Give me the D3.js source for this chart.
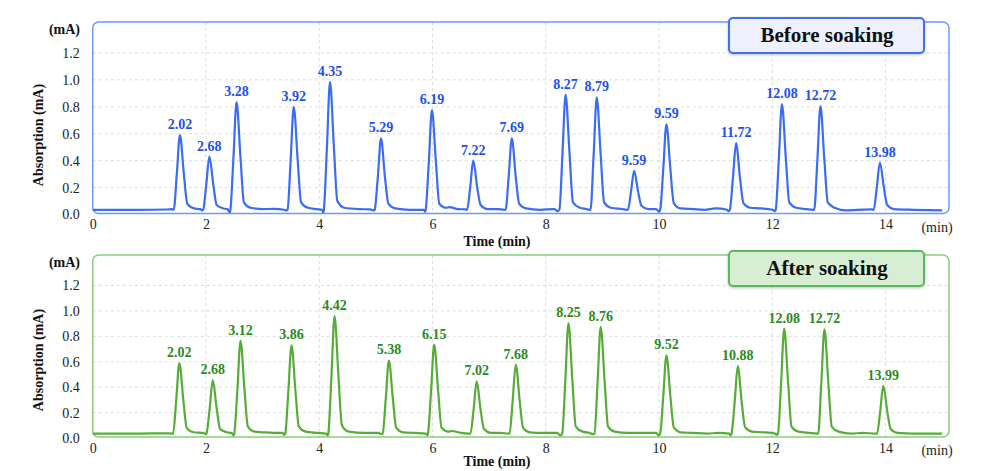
<!DOCTYPE html>
<html>
<head>
<meta charset="utf-8">
<script src="https://cdn.jsdelivr.net/npm/d3@7"></script>
<style>
  body { margin: 0; background: #fff; }
  svg { font-family: "Liberation Serif", "Times New Roman", serif; }
</style>
</head>
<body>
<div id="chart"></div>
<script>
// Chart size
const width = 989;
const height = 471;

// Axis ticks
const xTicks = [0, 2, 4, 6, 8, 10, 12, 14];
const yTicks = [0, 0.2, 0.4, 0.6, 0.8, 1.0, 1.2];

// Before soaking: peak apex (time, height) and their labels
const beforeTimes = [1.54, 2.06, 2.54, 3.55, 4.19, 5.09, 5.99, 6.72, 7.40, 8.35, 8.90, 9.56, 10.13, 11.36, 12.17, 12.85, 13.90];
const beforeHeights = [0.59, 0.43, 0.835, 0.80, 0.985, 0.565, 0.775, 0.40, 0.565, 0.89, 0.87, 0.325, 0.67, 0.53, 0.82, 0.805, 0.385];
const beforeLabels = ["2.02", "2.68", "3.28", "3.92", "4.35", "5.29", "6.19", "7.22", "7.69", "8.27", "8.79", "9.59", "9.59", "11.72", "12.08", "12.72", "13.98"];

// Before soaking: chromatogram trace [time (min), absorption (mA)]
const beforeTrace = [
  [0, 0.035], [0.8, 0.035], [1.3, 0.037], [1.40, 0.04],
  [1.43, 0.035], [1.485, 0.30], [1.54, 0.59], [1.61, 0.30], [1.67, 0.08], [1.79, 0.045],
  [1.9, 0.04], [1.93, 0.03],
  [1.95, 0.035], [2.005, 0.22], [2.06, 0.43], [2.13, 0.22], [2.19, 0.07], [2.31, 0.045],
  [2.38, 0.04], [2.42, 0.015],
  [2.43, 0.03], [2.485, 0.42], [2.54, 0.835], [2.61, 0.42], [2.67, 0.09], [2.79, 0.05],
  [3.0, 0.04], [3.2, 0.042], [3.38, 0.035], [3.42, 0.03],
  [3.44, 0.035], [3.495, 0.40], [3.55, 0.80], [3.62, 0.40], [3.68, 0.09], [3.80, 0.05],
  [3.95, 0.04], [4.05, 0.035], [4.07, 0.015],
  [4.08, 0.03], [4.135, 0.49], [4.19, 0.985], [4.26, 0.49], [4.32, 0.10], [4.44, 0.05],
  [4.7, 0.04], [4.9, 0.038], [4.97, 0.03],
  [4.98, 0.035], [5.035, 0.28], [5.09, 0.565], [5.16, 0.28], [5.22, 0.08], [5.34, 0.045],
  [5.6, 0.035], [5.85, 0.035], [5.87, 0.02],
  [5.88, 0.035], [5.935, 0.39], [5.99, 0.775], [6.06, 0.39], [6.12, 0.08], [6.24, 0.05], [6.3, 0.055],
  [6.45, 0.04], [6.58, 0.038],
  [6.61, 0.035], [6.665, 0.20], [6.72, 0.40], [6.79, 0.20], [6.85, 0.07], [6.97, 0.04],
  [7.15, 0.04], [7.27, 0.035],
  [7.29, 0.035], [7.345, 0.28], [7.40, 0.565], [7.47, 0.28], [7.53, 0.08], [7.65, 0.045],
  [7.9, 0.035], [8.15, 0.04], [8.21, 0.025],
  [8.24, 0.035], [8.295, 0.45], [8.35, 0.89], [8.42, 0.45], [8.48, 0.09], [8.60, 0.05],
  [8.72, 0.04], [8.77, 0.035],
  [8.79, 0.035], [8.845, 0.44], [8.90, 0.87], [8.97, 0.44], [9.03, 0.09], [9.15, 0.05],
  [9.35, 0.04], [9.43, 0.035],
  [9.45, 0.035], [9.505, 0.17], [9.56, 0.325], [9.63, 0.17], [9.69, 0.065], [9.81, 0.04],
  [9.95, 0.04], [10.0, 0.02],
  [10.02, 0.035], [10.075, 0.34], [10.13, 0.67], [10.20, 0.34], [10.26, 0.085], [10.38, 0.045],
  [10.6, 0.04], [10.8, 0.035], [11.0, 0.045], [11.2, 0.035], [11.23, 0.025],
  [11.25, 0.035], [11.305, 0.27], [11.36, 0.53], [11.43, 0.27], [11.49, 0.085], [11.61, 0.05],
  [11.8, 0.045], [12.0, 0.035], [12.04, 0.025],
  [12.06, 0.035], [12.115, 0.41], [12.17, 0.82], [12.24, 0.41], [12.30, 0.09], [12.42, 0.05],
  [12.6, 0.04], [12.72, 0.035],
  [12.74, 0.035], [12.795, 0.40], [12.85, 0.805], [12.92, 0.40], [12.98, 0.09], [13.10, 0.05],
  [13.3, 0.03], [13.5, 0.035], [13.75, 0.038],
  [13.79, 0.035], [13.845, 0.20], [13.90, 0.385], [13.97, 0.20], [14.03, 0.07], [14.15, 0.04],
  [14.5, 0.035], [15.0, 0.03]
];

// After soaking: peak apex (time, height) and their labels
const afterTimes = [1.53, 2.12, 2.61, 3.51, 4.27, 5.23, 6.03, 6.78, 7.47, 8.40, 8.97, 10.13, 11.39, 12.21, 12.92, 13.96];
const afterHeights = [0.59, 0.455, 0.765, 0.73, 0.96, 0.61, 0.735, 0.445, 0.578, 0.905, 0.875, 0.65, 0.565, 0.86, 0.855, 0.41];
const afterLabels = ["2.02", "2.68", "3.12", "3.86", "4.42", "5.38", "6.15", "7.02", "7.68", "8.25", "8.76", "9.52", "10.88", "12.08", "12.72", "13.99"];

// After soaking: chromatogram trace [time (min), absorption (mA)]
const afterTrace = [
  [0, 0.035], [0.8, 0.035], [1.3, 0.037], [1.40, 0.035],
  [1.42, 0.035], [1.475, 0.30], [1.53, 0.59], [1.60, 0.30], [1.66, 0.08], [1.78, 0.045],
  [1.95, 0.04], [2.0, 0.03],
  [2.01, 0.035], [2.065, 0.23], [2.12, 0.455], [2.19, 0.23], [2.25, 0.07], [2.37, 0.045],
  [2.45, 0.04], [2.49, 0.02],
  [2.50, 0.035], [2.555, 0.38], [2.61, 0.765], [2.68, 0.38], [2.74, 0.09], [2.86, 0.05],
  [3.0, 0.045], [3.2, 0.04], [3.35, 0.04], [3.38, 0.025],
  [3.40, 0.035], [3.455, 0.37], [3.51, 0.73], [3.58, 0.37], [3.64, 0.09], [3.76, 0.05],
  [3.95, 0.04], [4.12, 0.035], [4.15, 0.02],
  [4.16, 0.035], [4.215, 0.48], [4.27, 0.96], [4.34, 0.48], [4.40, 0.10], [4.52, 0.05],
  [4.8, 0.04], [5.05, 0.04], [5.1, 0.03],
  [5.12, 0.035], [5.175, 0.31], [5.23, 0.61], [5.30, 0.31], [5.36, 0.08], [5.48, 0.045],
  [5.7, 0.04], [5.88, 0.035], [5.91, 0.02],
  [5.92, 0.035], [5.975, 0.37], [6.03, 0.735], [6.10, 0.37], [6.16, 0.08], [6.28, 0.05], [6.34, 0.055],
  [6.5, 0.04], [6.65, 0.035],
  [6.67, 0.035], [6.725, 0.22], [6.78, 0.445], [6.85, 0.22], [6.91, 0.07], [7.03, 0.04],
  [7.2, 0.04], [7.34, 0.035],
  [7.36, 0.035], [7.415, 0.29], [7.47, 0.578], [7.54, 0.29], [7.60, 0.08], [7.72, 0.045],
  [7.95, 0.04], [8.2, 0.04], [8.26, 0.02],
  [8.29, 0.035], [8.345, 0.45], [8.40, 0.905], [8.47, 0.45], [8.53, 0.09], [8.65, 0.05],
  [8.78, 0.04], [8.83, 0.03],
  [8.86, 0.035], [8.915, 0.44], [8.97, 0.875], [9.04, 0.44], [9.10, 0.09], [9.22, 0.05],
  [9.45, 0.04], [9.7, 0.04], [9.95, 0.04], [9.99, 0.02],
  [10.02, 0.035], [10.075, 0.33], [10.13, 0.65], [10.20, 0.33], [10.26, 0.085], [10.38, 0.045],
  [10.6, 0.04], [10.85, 0.035], [11.05, 0.04], [11.24, 0.035], [11.26, 0.02],
  [11.28, 0.035], [11.335, 0.28], [11.39, 0.565], [11.46, 0.28], [11.52, 0.085], [11.64, 0.05],
  [11.85, 0.045], [12.05, 0.035], [12.08, 0.025],
  [12.10, 0.035], [12.155, 0.43], [12.21, 0.86], [12.28, 0.43], [12.34, 0.09], [12.46, 0.05],
  [12.65, 0.04], [12.79, 0.035],
  [12.81, 0.035], [12.865, 0.43], [12.92, 0.855], [12.99, 0.43], [13.05, 0.09], [13.17, 0.05],
  [13.4, 0.035], [13.6, 0.04], [13.82, 0.035],
  [13.85, 0.035], [13.905, 0.21], [13.96, 0.41], [14.03, 0.21], [14.09, 0.07], [14.21, 0.04],
  [14.5, 0.035], [15.0, 0.035]
];

const svg = d3.select("#chart")
    .append("svg")
    .attr("width", width)
    .attr("height", height);

// soft shadow for the legend boxes
const shadow = svg.append("defs").append("filter")
    .attr("id", "shadow")
    .attr("x", "-10%").attr("y", "-30%")
    .attr("width", "120%").attr("height", "160%");
shadow.append("feDropShadow")
    .attr("dx", 0).attr("dy", 1)
    .attr("stdDeviation", 1.5)
    .attr("flood-color", "#000")
    .attr("flood-opacity", 0.25);

// shared time scale
const x = d3.scaleLinear()
    .domain([0, 15.12])
    .range([92.7, 949]);

function drawPanel(p) {
    const y = d3.scaleLinear()
        .domain([0, p.yMax])
        .range([p.bottom, p.top]);

    const g = svg.append("g");

    // dashed grid
    g.append("g")
        .selectAll("line")
        .data(yTicks.slice(1))
        .enter().append("line")
        .attr("x1", x(0)).attr("x2", x.range()[1])
        .attr("y1", d => y(d)).attr("y2", d => y(d))
        .attr("stroke", "#dcdcdc")
        .attr("stroke-dasharray", "3,3");

    g.append("g")
        .selectAll("line")
        .data(xTicks.slice(1))
        .enter().append("line")
        .attr("x1", d => x(d)).attr("x2", d => x(d))
        .attr("y1", y(p.yMax)).attr("y2", y(0))
        .attr("stroke", "#dcdcdc")
        .attr("stroke-dasharray", "3,3");

    // panel frame
    g.append("rect")
        .attr("x", x(0))
        .attr("y", y(p.yMax))
        .attr("width", x.range()[1] - x(0))
        .attr("height", y(0) - y(p.yMax) - 1)
        .attr("rx", 6)
        .attr("fill", "none")
        .attr("stroke", p.frame)
        .attr("stroke-width", 1.5);

    // y axis
    const yAxis = g.append("g")
        .attr("transform", `translate(${x(0) - 13}, 0)`)
        .call(d3.axisLeft(y).tickValues(yTicks).tickFormat(d3.format(".1f")).tickSize(0).tickPadding(0));
    yAxis.select(".domain").remove();
    yAxis.selectAll("text")
        .attr("font-family", "Liberation Serif, serif")
        .attr("font-size", 14)
        .attr("fill", "#222");

    // x axis
    const xAxis = g.append("g")
        .attr("transform", `translate(0, ${y(0) + 5})`)
        .call(d3.axisBottom(x).tickValues(xTicks).tickSize(0).tickPadding(0));
    xAxis.select(".domain").remove();
    xAxis.selectAll("text")
        .attr("font-family", "Liberation Serif, serif")
        .attr("font-size", 14)
        .attr("fill", "#222");

    g.append("text")
        .attr("x", 937)
        .attr("y", y(0) + 17)
        .attr("text-anchor", "middle")
        .attr("font-size", 14)
        .attr("fill", "#222")
        .text("(min)");

    g.append("text")
        .attr("x", 497)
        .attr("y", y(0) + p.timeDy)
        .attr("text-anchor", "middle")
        .attr("font-size", 14)
        .attr("font-weight", "bold")
        .attr("fill", "#111")
        .text("Time (min)");

    g.append("text")
        .attr("x", 80)
        .attr("y", y(p.yMax) + 12)
        .attr("text-anchor", "end")
        .attr("font-size", 14)
        .attr("font-weight", "bold")
        .attr("fill", "#111")
        .text("(mA)");

    g.append("text")
        .attr("transform", `translate(43, ${p.titleY}) rotate(-90)`)
        .attr("text-anchor", "middle")
        .attr("font-size", 14)
        .attr("font-weight", "bold")
        .attr("fill", "#111")
        .text("Absorption (mA)");

    // chromatogram trace
    const line = d3.line()
        .x(d => x(d[0]))
        .y(d => y(d[1]))
        .curve(d3.curveMonotoneX);

    g.append("path")
        .datum(p.trace)
        .attr("d", line)
        .attr("fill", "none")
        .attr("stroke", p.line)
        .attr("stroke-width", 2.2)
        .attr("stroke-linejoin", "round");

    // peak labels
    g.append("g")
        .selectAll("text")
        .data(p.labels)
        .enter().append("text")
        .attr("x", (d, i) => x(p.times[i]))
        .attr("y", (d, i) => y(p.heights[i]) - 6)
        .attr("text-anchor", "middle")
        .attr("font-size", 14)
        .attr("font-weight", "bold")
        .attr("fill", p.labelColor)
        .text(d => d);

    // legend box
    g.append("rect")
        .attr("x", 729)
        .attr("y", p.boxY)
        .attr("width", 195)
        .attr("height", 35)
        .attr("rx", 4)
        .attr("fill", p.boxFill)
        .attr("stroke", p.boxStroke)
        .attr("stroke-width", 2)
        .attr("filter", "url(#shadow)");

    g.append("text")
        .attr("x", 827)
        .attr("y", p.boxY + 24)
        .attr("text-anchor", "middle")
        .attr("font-size", 21)
        .attr("font-weight", "bold")
        .attr("fill", "#111")
        .text(p.name);
}

drawPanel({
    name: "Before soaking",
    trace: beforeTrace,
    times: beforeTimes,
    heights: beforeHeights,
    labels: beforeLabels,
    top: 22, bottom: 214.5, yMax: 1.43,
    titleY: 135, timeDy: 31,
    frame: "#6e98f6",
    line: "#3a6cf4",
    labelColor: "#2150ee",
    boxY: 18,
    boxFill: "#eef1fd",
    boxStroke: "#3f6ff0"
});

drawPanel({
    name: "After soaking",
    trace: afterTrace,
    times: afterTimes,
    heights: afterHeights,
    labels: afterLabels,
    top: 255, bottom: 438, yMax: 1.44,
    titleY: 360, timeDy: 28,
    frame: "#8acb7c",
    line: "#55ad38",
    labelColor: "#2b8a1e",
    boxY: 251,
    boxFill: "#d7eed2",
    boxStroke: "#5cb85c"
});
</script>
</body>
</html>
